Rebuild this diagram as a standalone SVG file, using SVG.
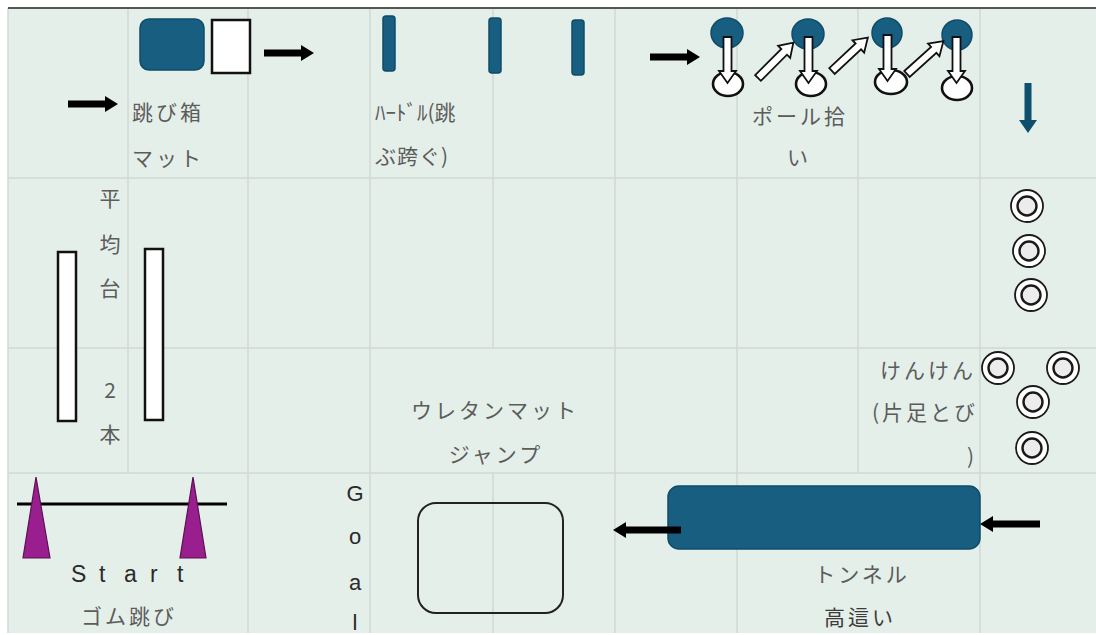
<svg xmlns="http://www.w3.org/2000/svg" width="1096" height="635" viewBox="0 0 1096 635">
<defs>
<style>
.grid{stroke:#cfd8d3;stroke-width:1.5;fill:none}
.jp{font-family:"Noto Sans CJK JP","Noto Sans",sans-serif;font-size:21px;fill:#5c5c5c;letter-spacing:3px}
.lat{font-family:"Liberation Sans",Arial,sans-serif;font-size:22px;fill:#2a2a2a}
.blue{fill:#175e80;stroke:#0f4c68;stroke-width:1.5}
.wbox{fill:#fff;stroke:#111;stroke-width:2.5}
.blk{fill:#000}
.oarr{fill:#fff;stroke:#111;stroke-width:1.8;stroke-linejoin:miter}
.ring{fill:#fff;stroke:#1a1a1a;stroke-width:1.8}
.ell{fill:#fff;stroke:#111;stroke-width:2.6}
.ringi{fill:#ececec;stroke:#1a1a1a;stroke-width:2.4}
.cone{fill:#9a1f8e;stroke:#5c0f55;stroke-width:1.2}
</style>
</defs>
<rect x="0" y="0" width="1096" height="635" fill="#fff"/>
<rect x="8" y="8" width="1088" height="625" fill="#e5efe9"/>
<g id="grid">
<line class="grid" x1="8" y1="178" x2="1096" y2="178"/>
<line class="grid" x1="8" y1="348" x2="1096" y2="348"/>
<line class="grid" x1="8" y1="473" x2="1096" y2="473"/>
<line class="grid" x1="8" y1="8" x2="8" y2="633"/>
<line class="grid" x1="128" y1="8" x2="128" y2="473"/>
<line class="grid" x1="248" y1="8" x2="248" y2="633"/>
<line class="grid" x1="370" y1="8" x2="370" y2="633"/>
<line class="grid" x1="493" y1="8" x2="493" y2="348"/>
<line class="grid" x1="493" y1="473" x2="493" y2="633"/>
<line class="grid" x1="615" y1="8" x2="615" y2="633"/>
<line class="grid" x1="737" y1="8" x2="737" y2="633"/>
<line class="grid" x1="858" y1="8" x2="858" y2="473"/>
<line class="grid" x1="980" y1="8" x2="980" y2="633"/>
<line x1="8" y1="8" x2="1096" y2="8" stroke="#555" stroke-width="2"/>
</g>

<g id="tobibako">
<rect class="blue" x="140" y="19" width="64" height="51" rx="9"/>
<rect class="wbox" x="212" y="20" width="38" height="53"/>
<text class="jp" x="132" y="120">跳び箱</text>
<text class="jp" x="132" y="166">マット</text>
</g>

<g id="hurdle">
<rect class="blue" x="383" y="16" width="12" height="55" rx="3"/>
<rect class="blue" x="489" y="18" width="12" height="55" rx="3"/>
<rect class="blue" x="572" y="20" width="12" height="55" rx="3"/>
<text class="jp" x="375" y="120" style="letter-spacing:0px">ﾊｰﾄﾞﾙ(跳</text>
<text class="jp" x="375" y="164" style="letter-spacing:1px">ぶ跨ぐ)</text>
</g>

<g id="ball">
<ellipse class="blue" cx="727" cy="33" rx="16" ry="15"/>
<ellipse class="blue" cx="808" cy="34" rx="16" ry="15"/>
<ellipse class="blue" cx="887" cy="33" rx="15" ry="15"/>
<ellipse class="blue" cx="957" cy="35" rx="15" ry="15"/>
<ellipse class="ell" cx="728" cy="84" rx="15" ry="12"/>
<ellipse class="ell" cx="811" cy="84" rx="15" ry="12"/>
<ellipse class="ell" cx="891" cy="82" rx="16" ry="12"/>
<ellipse class="ell" cx="957" cy="88" rx="15" ry="12"/>
<text class="jp" x="800" y="124" text-anchor="middle">ポール拾</text>
<text class="jp" x="799" y="165" text-anchor="middle">い</text>
</g>

<g id="heikindai">
<rect class="wbox" x="58" y="252" width="18" height="169"/>
<rect class="wbox" x="145" y="249" width="18" height="171"/>
<text class="jp" x="110" y="206" text-anchor="middle" style="letter-spacing:0">平</text>
<text class="jp" x="110" y="252" text-anchor="middle" style="letter-spacing:0">均</text>
<text class="jp" x="110" y="296" text-anchor="middle" style="letter-spacing:0">台</text>
<text class="jp" x="110" y="398" text-anchor="middle" style="letter-spacing:0">2</text>
<text class="jp" x="110" y="442" text-anchor="middle" style="letter-spacing:0">本</text>
</g>

<g id="kenken">
<circle class="ring" cx="1027" cy="206" r="16"/><circle class="ringi" cx="1027" cy="206" r="9.5"/>
<circle class="ring" cx="1029" cy="251" r="16"/><circle class="ringi" cx="1029" cy="251" r="9.5"/>
<circle class="ring" cx="1031" cy="295" r="16"/><circle class="ringi" cx="1031" cy="295" r="9.5"/>
<circle class="ring" cx="998" cy="368" r="16"/><circle class="ringi" cx="998" cy="368" r="9.5"/>
<circle class="ring" cx="1063" cy="368" r="16"/><circle class="ringi" cx="1063" cy="368" r="9.5"/>
<circle class="ring" cx="1033" cy="402" r="16"/><circle class="ringi" cx="1033" cy="402" r="9.5"/>
<circle class="ring" cx="1032" cy="448" r="16"/><circle class="ringi" cx="1032" cy="448" r="9.5"/>
<text class="jp" x="976" y="378" text-anchor="end">けんけん</text>
<text class="jp" x="978" y="420" text-anchor="end">(片足とび</text>
<text class="jp" x="977" y="464" text-anchor="end">)</text>
</g>

<g id="urethane">
<text class="jp" x="495" y="418" text-anchor="middle">ウレタンマット</text>
<text class="jp" x="496" y="462" text-anchor="middle">ジャンプ</text>
<rect x="418" y="503" width="145" height="110" rx="18" fill="none" stroke="#222" stroke-width="2"/>
</g>

<g id="start">
<line x1="17" y1="504" x2="227" y2="504" stroke="#000" stroke-width="3"/>
<polygon class="cone" points="36,477 50,558 23,558"/>
<polygon class="cone" points="193,477 206,558 180,558"/>
<text class="lat" x="71 99 124 150 177" y="582" style="font-size:23px">Start</text>
<text class="jp" x="129" y="624" text-anchor="middle">ゴム跳び</text>
</g>

<g id="goal">
<text class="lat" x="355" y="501" text-anchor="middle">G</text>
<text class="lat" x="355" y="544" text-anchor="middle">o</text>
<text class="lat" x="355" y="590" text-anchor="middle">a</text>
<text class="lat" x="355" y="630" text-anchor="middle">l</text>
</g>

<g id="tunnel">
<rect class="blue" x="668" y="486" width="312" height="63" rx="11"/>
<text class="jp" x="862" y="582" text-anchor="middle">トンネル</text>
<text class="jp" x="860" y="625" text-anchor="middle" style="fill:#3c3c3c">高這い</text>
</g>

<g id="connectors">
<polygon class="blk" points="68,100.5 105,100.5 105,96 118,104 105,112 105,107.5 68,107.5"/>
<polygon class="blk" points="264,49.5 301,49.5 301,45 314,53 301,61 301,56.5 264,56.5"/>
<polygon class="blk" points="650,53.5 687,53.5 687,49 700,57 687,65 687,60.5 650,60.5"/>
<polygon class="blk" points="681,526.5 626,526.5 626,522 613,530 626,538 626,533.5 681,533.5"/>
<polygon class="blk" points="1040,520.5 993,520.5 993,516 980,524 993,532 993,527.5 1040,527.5"/>
<polygon fill="#0f4f6e" points="1024.5,83 1031.5,83 1031.5,120 1037,120 1028,133 1019,120 1024.5,120"/>
<polygon class="oarr" points="723.5,37 731.5,37 731.5,71 736,71 727.5,83 719,71 723.5,71"/>
<polygon class="oarr" points="804.5,37 812.5,37 812.5,71 817,71 808.5,83 800,71 804.5,71"/>
<polygon class="oarr" points="883.5,35 891.5,35 891.5,69 896,69 887.5,81 879,69 883.5,69"/>
<polygon class="oarr" points="952.5,37 960.5,37 960.5,71 965,71 956.5,83 948,71 952.5,71"/>
<polygon class="oarr" transform="translate(758,78) rotate(-45)" points="0,-4 37,-4 37,-8.5 50,0 37,8.5 37,4 0,4"/>
<polygon class="oarr" transform="translate(832,71) rotate(-43)" points="0,-4 36,-4 36,-8.5 49,0 36,8.5 36,4 0,4"/>
<polygon class="oarr" transform="translate(907,74) rotate(-42)" points="0,-4 36,-4 36,-8.5 49,0 36,8.5 36,4 0,4"/>
</g>
</svg>
